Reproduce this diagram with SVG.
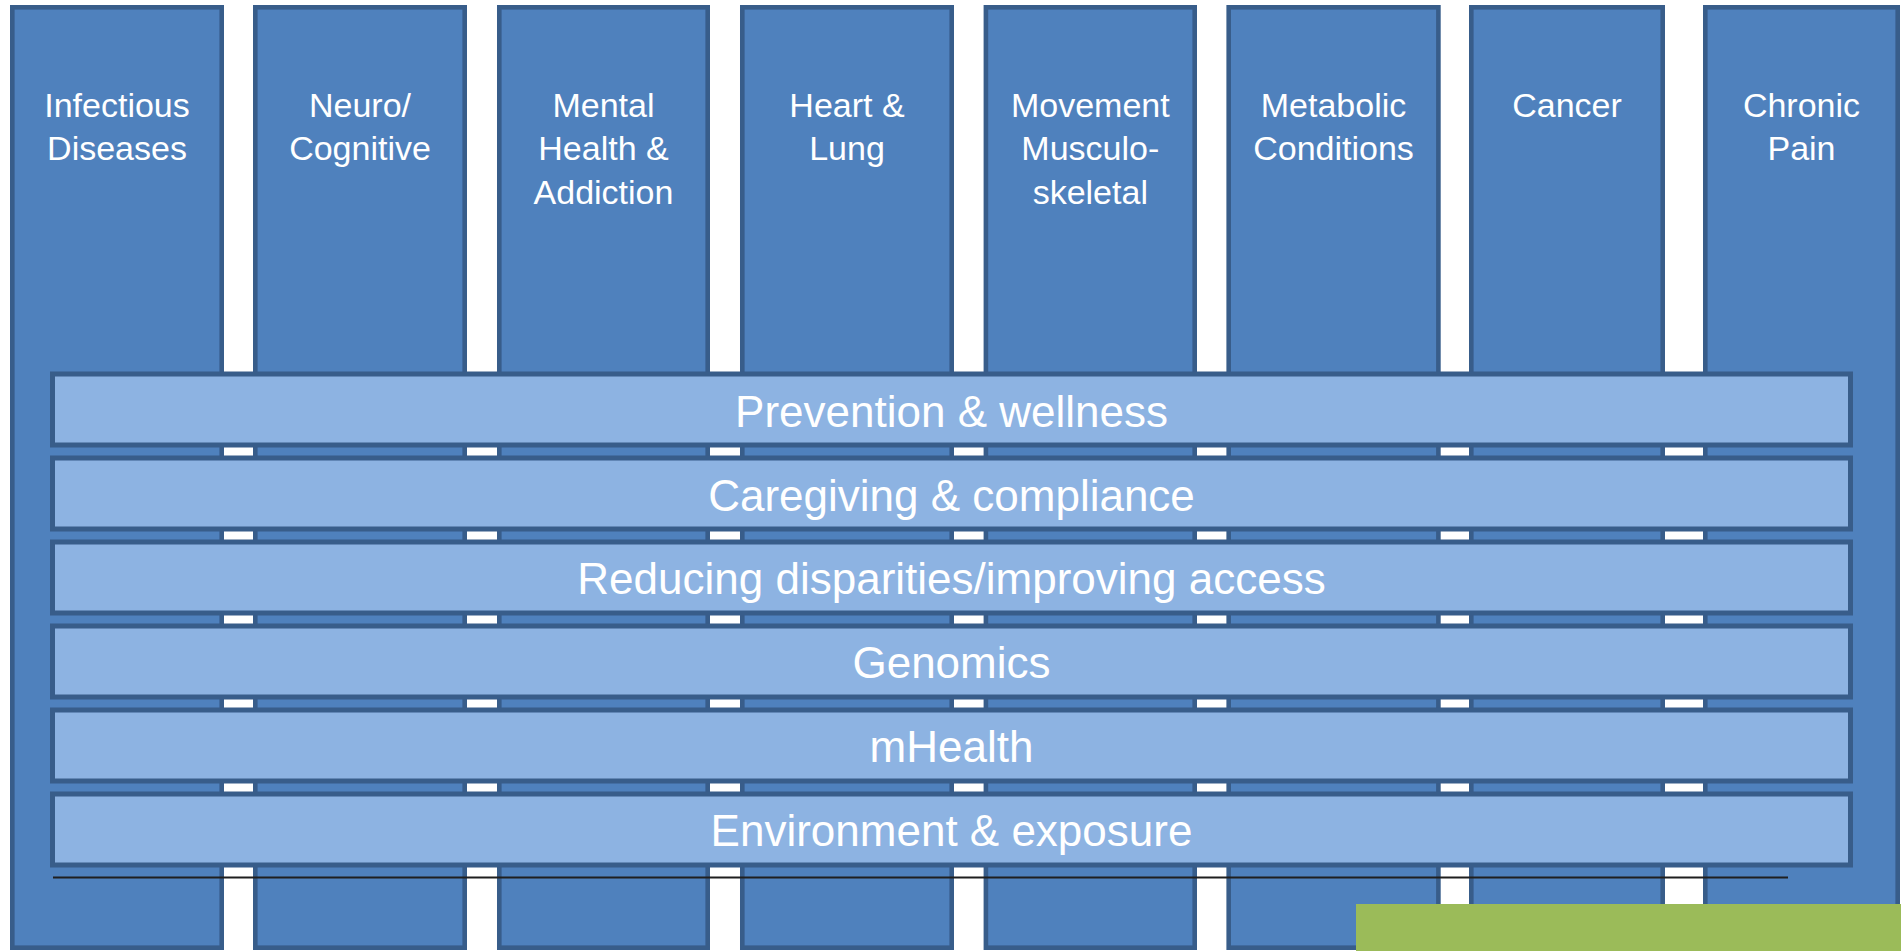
<svg xmlns="http://www.w3.org/2000/svg" width="1901" height="951" viewBox="0 0 1901 951">
<style>
.col{fill:#4f81bd;stroke:#385d8a;stroke-width:4.6}
.band{fill:#8db3e2;stroke:#385d8a;stroke-width:5}
.ct{font-family:"Liberation Sans",Arial,sans-serif;font-size:34px;fill:#ffffff;text-anchor:middle}
.bt{font-family:"Liberation Sans",Arial,sans-serif;font-size:44px;fill:#ffffff;text-anchor:middle}
</style>
<rect width="1901" height="951" fill="#ffffff"/>
<g id="col-infectious"><rect class="col" x="12.3" y="7.3" width="209.4" height="940.4"/><text class="ct" x="117" y="116.7">Infectious</text><text class="ct" x="117" y="160.2">Diseases</text></g>
<g id="col-neuro"><rect class="col" x="255.3" y="7.3" width="209.4" height="940.4"/><text class="ct" x="360" y="116.7">Neuro/</text><text class="ct" x="360" y="160.2">Cognitive</text></g>
<g id="col-mental"><rect class="col" x="499.3" y="7.3" width="208.4" height="940.4"/><text class="ct" x="603.5" y="116.7">Mental</text><text class="ct" x="603.5" y="160.2">Health &amp;</text><text class="ct" x="603.5" y="203.7">Addiction</text></g>
<g id="col-heart"><rect class="col" x="742.3" y="7.3" width="209.4" height="940.4"/><text class="ct" x="847" y="116.7">Heart &amp;</text><text class="ct" x="847" y="160.2">Lung</text></g>
<g id="col-movement"><rect class="col" x="985.9" y="7.3" width="208.8" height="940.4"/><text class="ct" x="1090.3" y="116.7">Movement</text><text class="ct" x="1090.3" y="160.2">Musculo-</text><text class="ct" x="1090.3" y="203.7">skeletal</text></g>
<g id="col-metabolic"><rect class="col" x="1228.7" y="7.3" width="209.7" height="940.4"/><text class="ct" x="1333.5" y="116.7">Metabolic</text><text class="ct" x="1333.5" y="160.2">Conditions</text></g>
<g id="col-cancer"><rect class="col" x="1471.3" y="7.3" width="191.4" height="940.4"/><text class="ct" x="1567" y="116.7">Cancer</text></g>
<g id="col-pain"><rect class="col" x="1705.3" y="7.3" width="192.4" height="940.4"/><text class="ct" x="1801.5" y="116.7">Chronic</text><text class="ct" x="1801.5" y="160.2">Pain</text></g>
<g id="band-prevention"><rect class="band" x="52.5" y="374" width="1798" height="71"/><text class="bt" x="951.5" y="426.5">Prevention &amp; wellness</text></g>
<g id="band-caregiving"><rect class="band" x="52.5" y="458" width="1798" height="71"/><text class="bt" x="951.5" y="510.5">Caregiving &amp; compliance</text></g>
<g id="band-disparities"><rect class="band" x="52.5" y="542" width="1798" height="71"/><text class="bt" x="951.5" y="594">Reducing disparities/improving access</text></g>
<g id="band-genomics"><rect class="band" x="52.5" y="626" width="1798" height="71"/><text class="bt" x="951.5" y="678">Genomics</text></g>
<g id="band-mhealth"><rect class="band" x="52.5" y="710" width="1798" height="71"/><text class="bt" x="951.5" y="762">mHealth</text></g>
<g id="band-environment"><rect class="band" x="52.5" y="794" width="1798" height="71"/><text class="bt" x="951.5" y="845.5">Environment &amp; exposure</text></g>
<g id="connectors"><line x1="53" y1="877.5" x2="1788" y2="877.5" stroke="#1f1f1f" stroke-width="2.2"/></g>
<g id="green-box"><rect x="1356" y="904" width="545" height="47" fill="#9bbb59"/></g>
</svg>
